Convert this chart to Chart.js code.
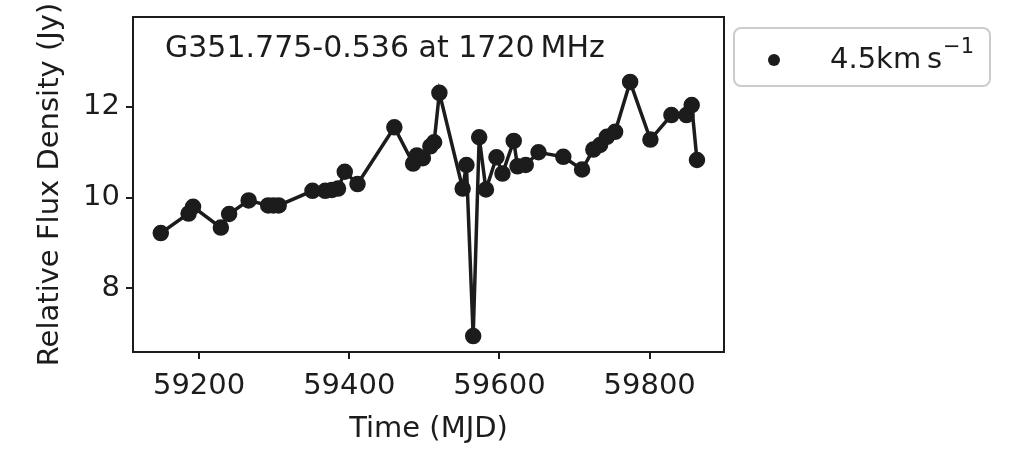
<!DOCTYPE html>
<html lang="en">
<head>
  <meta charset="UTF-8" />
  <title>G351.775-0.536 at 1720 MHz</title>
  <script src="https://cdn.jsdelivr.net/npm/chart.js"></script>
  <style>
    html, body { margin: 0; padding: 0; background: #fff; }
    #wrap { width: 1024px; height: 476px; position: relative; }
  </style>
</head>
<body>
  <div id="wrap"><canvas id="lightCurve"></canvas></div>

  <script>
    // data
    const mjd = [59149, 59186, 59192, 59229, 59240, 59266, 59292, 59299, 59306, 59351,
                 59368, 59377, 59385, 59394, 59411, 59460, 59485, 59490, 59498, 59508,
                 59513, 59520, 59551, 59556, 59565, 59573, 59582, 59596, 59604, 59619,
                 59624, 59635, 59652, 59685, 59710, 59725, 59734, 59743, 59754, 59774,
                 59801, 59829, 59849, 59856, 59863];
    const flux = [9.22, 9.65, 9.80, 9.34, 9.64, 9.94, 9.83, 9.83, 9.83, 10.15,
                  10.15, 10.17, 10.20, 10.57, 10.30, 11.55, 10.75, 10.93, 10.87, 11.13,
                  11.22, 12.31, 10.20, 10.72, 6.95, 11.33, 10.18, 10.89, 10.53, 11.25,
                  10.69, 10.72, 11.00, 10.90, 10.62, 11.06, 11.16, 11.34, 11.45, 12.55,
                  11.28, 11.82, 11.82, 12.04, 10.83];
    const fluxErr = [0.08, 0.08, 0.08, 0.08, 0.08, 0.08, 0.08, 0.08, 0.08, 0.08,
                     0.08, 0.08, 0.08, 0.08, 0.08, 0.1, 0.08, 0.08, 0.08, 0.08,
                     0.08, 0.1, 0.08, 0.08, 0.1, 0.1, 0.08, 0.08, 0.08, 0.1,
                     0.08, 0.08, 0.08, 0.08, 0.1, 0.08, 0.08, 0.08, 0.08, 0.1,
                     0.16, 0.1, 0.15, 0.16, 0.16];
    const xTicks = [59200, 59400, 59600, 59800];
    const yTicks = [8, 10, 12];
    const seriesLabel = '4.5km\u2009s';
    const titleText = 'G351.775-0.536 at 1720\u2009MHz';

    const ink = '#1c1c1c';
    const fontFam = '"DejaVu Sans", sans-serif';

    // error bars, box, in-plot title and outside legend
    const decor = {
      id: 'decor',
      beforeDatasetsDraw(chart) {
        const c = chart.ctx, xs = chart.scales.x, ys = chart.scales.y;
        c.save();
        c.strokeStyle = ink;
        c.lineWidth = 2;
        mjd.forEach((m, i) => {
          const px = xs.getPixelForValue(m);
          c.beginPath();
          c.moveTo(px, ys.getPixelForValue(flux[i] - fluxErr[i]));
          c.lineTo(px, ys.getPixelForValue(flux[i] + fluxErr[i]));
          c.stroke();
        });
        c.restore();
      },
      afterDraw(chart) {
        const c = chart.ctx, a = chart.chartArea;
        c.save();
        c.strokeStyle = ink;
        c.lineWidth = 2;
        c.strokeRect(a.left, a.top, a.right - a.left, a.bottom - a.top);

        c.fillStyle = ink;
        c.font = '30px ' + fontFam;
        c.textBaseline = 'alphabetic';
        c.fillText(titleText, a.left + 32, a.top + 40);

        // legend box
        const lx = 734, ly = 28, lw = 256, lh = 58, r = 7;
        c.strokeStyle = '#cccccc';
        c.lineWidth = 2;
        c.beginPath();
        c.roundRect(lx, ly, lw, lh, r);
        c.fillStyle = '#ffffff';
        c.fill();
        c.stroke();
        c.fillStyle = ink;
        c.beginPath();
        c.arc(774, 60, 6, 0, Math.PI * 2);
        c.fill();
        c.font = '29px ' + fontFam;
        c.fillText(seriesLabel, 830, 68);
        const w = c.measureText(seriesLabel).width;
        c.font = '21px ' + fontFam;
        c.fillText('\u22121', 830 + w + 1, 53);
        c.restore();
      }
    };

    new Chart(document.getElementById('lightCurve'), {
      type: 'line',
      data: {
        datasets: [{
          label: seriesLabel,
          data: mjd.map((m, i) => ({ x: m, y: flux[i] })),
          borderColor: ink,
          backgroundColor: ink,
          borderWidth: 3.5,
          pointRadius: 6.5,
          pointHoverRadius: 6.5,
          tension: 0
        }]
      },
      options: {
        responsive: true,
        maintainAspectRatio: false,
        animation: false,
        layout: { padding: { left: 33, right: 300, top: 17, bottom: 29 } },
        plugins: { legend: { display: false }, tooltip: { enabled: false } },
        scales: {
          x: {
            type: 'linear',
            min: 59112,
            max: 59899,
            afterBuildTicks: s => { s.ticks = xTicks.map(v => ({ value: v })); },
            afterFit: s => { s.height = 95; s.paddingLeft = 0; s.paddingRight = 0; },
            grid: { drawOnChartArea: false, drawTicks: true, tickLength: 7, color: ink, lineWidth: 2 },
            border: { display: false },
            ticks: { color: ink, font: { family: fontFam, size: 29 }, padding: 10, maxRotation: 0,
                      callback: v => String(v) },
            title: { display: true, text: 'Time (MJD)', color: ink,
                     font: { family: fontFam, size: 29 }, padding: { top: 2, bottom: 0 } }
          },
          y: {
            min: 6.6,
            max: 13.98,
            afterBuildTicks: s => { s.ticks = yTicks.map(v => ({ value: v })); },
            afterFit: s => { s.width = 100; s.paddingTop = 0; s.paddingBottom = 0; },
            grid: { drawOnChartArea: false, drawTicks: true, tickLength: 7, color: ink, lineWidth: 2 },
            border: { display: false },
            ticks: { color: ink, font: { family: fontFam, size: 29 }, padding: 6 },
            title: { display: true, text: 'Relative Flux Density (Jy)', color: ink,
                     font: { family: fontFam, size: 29 }, padding: { top: 0, bottom: 4 } }
          }
        }
      },
      plugins: [decor]
    });
  </script>
</body>
</html>
